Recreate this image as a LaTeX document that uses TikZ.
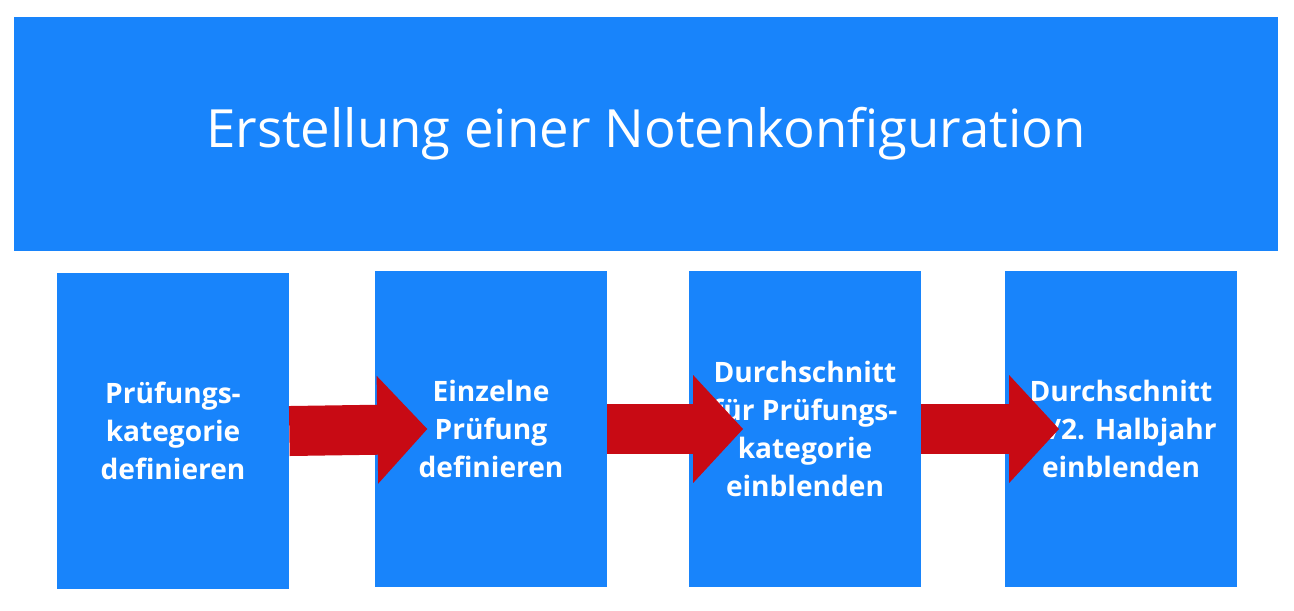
\documentclass[tikz,border=0pt]{standalone}
\usepackage{fontspec}
\setmainfont{Open Sans}
\usetikzlibrary{arrows.meta,positioning}
\definecolor{stepblue}{HTML}{1884FB}
\definecolor{flowred}{HTML}{C80A14}
\tikzset{
  stepbox/.style={fill=stepblue, minimum width=4.64cm, minimum height=6.34cm,
    text=white, align=center, font=\fontsize{16}{21.5}\selectfont\bfseries, inner sep=0pt},
  flow/.style={flowred, line width=1cm, -{Triangle[length=1cm,width=2.1cm]}}
}
\begin{document}
\begin{tikzpicture}[x=0.02cm,y=-0.02cm]
    \useasboundingbox (0,0) rectangle (1294,610);

    \node[fill=stepblue, minimum width=25.28cm, minimum height=4.68cm, inner sep=0pt,
          text=white, font=\fontsize{30}{36}\selectfont] (title) at (646,134)
          {Erstellung einer Notenkonfiguration};

    \node[stepbox] (kat) at (173,431) {Prüfungs-\\kategorie\\definieren};
    \node[stepbox] (einz) at (491,429) {Einzelne\\Prüfung\\definieren};
    \node[stepbox] (dkat) at (805,429) {Durchschnitt\\für Prüfungs-\\kategorie\\einblenden};
    \node[stepbox] (dhalb) at (1121,429) {Durchschnitt\\1./2. Halbjahr\\einblenden};

    \draw[flow] (kat.east) -- ([xshift=30]einz.west);
    \draw[flow] (einz.east) -- ([xshift=31]dkat.west);
    \draw[flow] (dkat.east) -- ([xshift=31]dhalb.west);
\end{tikzpicture}
\end{document}
